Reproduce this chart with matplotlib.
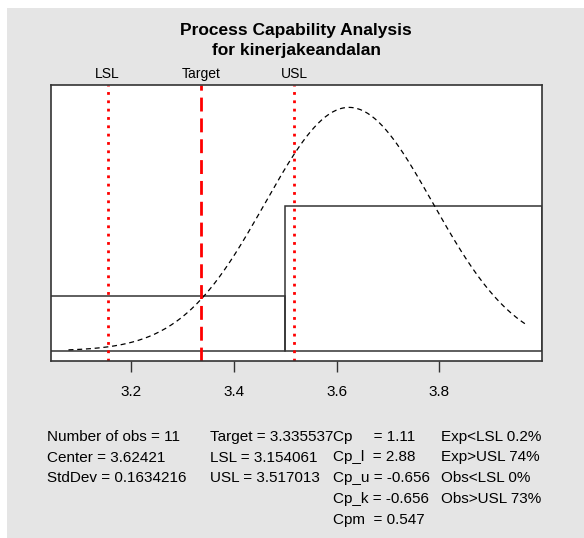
import numpy as np
import matplotlib.pyplot as plt

# Process data (qcc style capability summary)
n_obs = 11
center = 3.62421
std_dev = 0.1634216
target = 3.335537
lsl = 3.154061
usl = 3.517013

# histogram bins and counts
breaks = [3.0, 3.5, 4.0]
counts = [3, 8]

stats_col1 = ["Number of obs = 11", "Center = 3.62421", "StdDev = 0.1634216"]
stats_col2 = ["Target = 3.335537", "LSL = 3.154061", "USL = 3.517013"]
stats_col3 = ["Cp     = 1.11", "Cp_l  = 2.88", "Cp_u = -0.656", "Cp_k = -0.656", "Cpm  = 0.547"]
stats_col4 = ["Exp<LSL 0.2%", "Exp>USL 74%", "Obs<LSL 0%", "Obs>USL 73%"]

plt.rcParams['font.family'] = ['Liberation Sans', 'DejaVu Sans']

W, H = 584, 538
fig = plt.figure(figsize=(W / 100, H / 100), dpi=100)
fig.patch.set_facecolor('white')
# grey panel
fig.add_artist(plt.Rectangle((7 / W, 0), 1 - 7 / W, 1 - 8 / H, transform=fig.transFigure,
                             facecolor='#e5e5e5', edgecolor='none', zorder=-10))

left, right, top, bottom = 51, 542, 85, 361
ax = fig.add_axes([left / W, 1 - bottom / H, (right - left) / W, (bottom - top) / H])
ax.set_facecolor('white')

# histogram as density
widths = np.diff(breaks)
dens = np.array(counts) / (n_obs * widths)
ax.bar(breaks[:-1], dens, width=widths, align='edge', facecolor='none',
       edgecolor='#333333', linewidth=1.1)

# normal curve
xs = np.linspace(3.078, 3.968, 250)
ys = np.exp(-0.5 * ((xs - center) / std_dev) ** 2) / (std_dev * np.sqrt(2 * np.pi))
ax.plot(xs, ys, color='black', linestyle=(0, (4, 3)), linewidth=0.9)

# spec lines
ax.axvline(lsl, color='red', linestyle=(0, (1, 2)), linewidth=2)
ax.axvline(usl, color='red', linestyle=(0, (1, 2)), linewidth=2)
ax.axvline(target, color='red', linestyle=(0, (5, 2.5)), linewidth=2)

ymax = 1.05 * ys.max()
ax.set_xlim(3.044, 4.0)
ax.set_ylim(-0.04 * ymax, 1.04 * ymax)
ax.set_yticks([])
ax.set_xticks([3.2, 3.4, 3.6, 3.8])
ax.set_xticklabels(['3.2', '3.4', '3.6', '3.8'], fontsize=11)
ax.tick_params(axis='x', length=8, width=1, color='#333333', pad=9)
for s in ax.spines.values():
    s.set_color('#333333')
    s.set_linewidth(1.2)

# labels above the box
for val, lab in [(lsl, 'LSL'), (target, 'Target'), (usl, 'USL')]:
    ax.text(val, 1.015, lab, transform=ax.get_xaxis_transform(), ha='center',
            va='bottom', fontsize=10)

fig.text(296 / W, 1 - 30 / H, 'Process Capability Analysis', ha='center', va='center',
         fontsize=12.5, fontweight='bold')
fig.text(296 / W, 1 - 50 / H, 'for kinerjakeandalan', ha='center', va='center',
         fontsize=12.5, fontweight='bold')

rows_y = [437, 457.5, 478, 499, 520]
cols_x = [47, 210, 333, 441]
for x, col in zip(cols_x, [stats_col1, stats_col2, stats_col3, stats_col4]):
    for y, s in zip(rows_y, col):
        fig.text(x / W, 1 - y / H, s, ha='left', va='center', fontsize=11)

fig.savefig('out.png', dpi=100)
